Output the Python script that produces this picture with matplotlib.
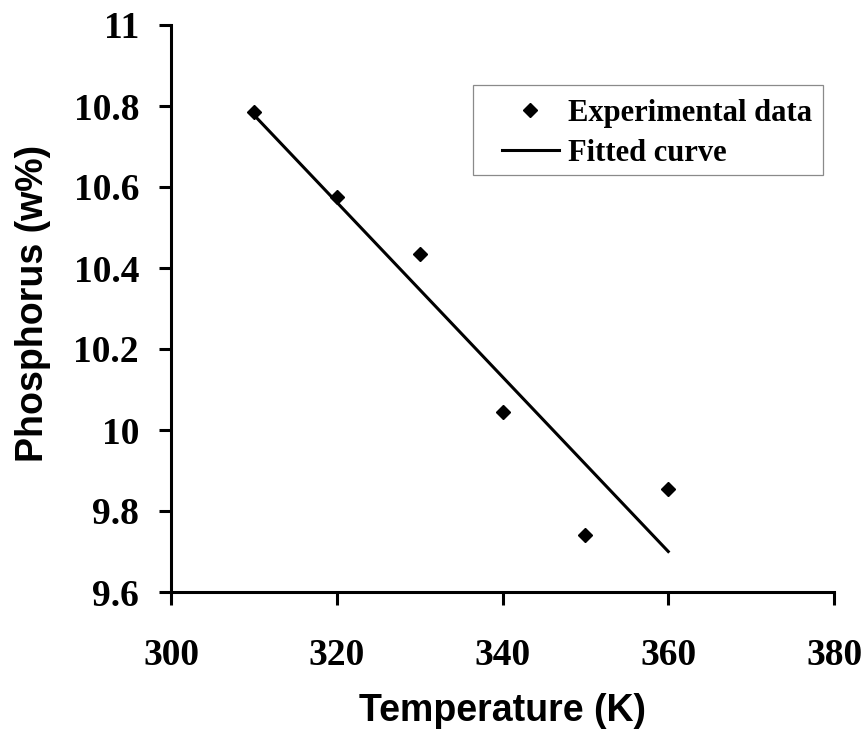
import matplotlib
matplotlib.use("Agg")
import matplotlib.pyplot as plt
from matplotlib.patches import Rectangle

# Phosphorus content vs. temperature
temperature = [310, 320, 330, 340, 350, 360]
phosphorus = [10.785, 10.575, 10.435, 10.045, 9.74, 9.855]

# Linear fit end points
fit_temperature = [310, 360]
fit_phosphorus = [10.778, 9.700]

x_ticks = [300, 320, 340, 360, 380]
y_ticks = [9.6, 9.8, 10.0, 10.2, 10.4, 10.6, 10.8, 11.0]
y_tick_labels = ["9.6", "9.8", "10", "10.2", "10.4", "10.6", "10.8", "11"]

W, H = 867, 740
fig = plt.figure(figsize=(W / 100, H / 100), dpi=100)
ax = fig.add_axes([171 / W, 1 - 592 / H, (834 - 171) / W, (592 - 25) / H])

serif = "Liberation Serif"
sans = "Liberation Sans"

ax.plot(temperature, phosphorus, linestyle="none", marker="D", markersize=7,
        color="black", label="Experimental data", zorder=3)
ax.plot(fit_temperature, fit_phosphorus, color="black", linewidth=2.2,
        label="Fitted curve", zorder=2)

ax.set_xlim(300, 380)
ax.set_ylim(9.6, 11.0)
ax.set_xticks(x_ticks)
ax.set_xticklabels([str(t) for t in x_ticks])
ax.set_yticks(y_ticks)
ax.set_yticklabels(y_tick_labels)

for side in ("top", "right"):
    ax.spines[side].set_visible(False)
for side in ("left", "bottom"):
    ax.spines[side].set_linewidth(2.2)

ax.tick_params(axis="both", direction="out", length=9, width=2.2)
ax.tick_params(axis="x", pad=24)
ax.tick_params(axis="y", pad=14)
for lab in ax.get_xticklabels() + ax.get_yticklabels():
    lab.set_fontfamily(serif)
    lab.set_fontweight("bold")
    lab.set_fontsize(27)

ax.set_xlabel("Temperature (K)", fontfamily=sans, fontweight="bold", fontsize=27)
ax.set_ylabel("Phosphorus (w%)", fontfamily=sans, fontweight="bold", fontsize=27)
ax.xaxis.set_label_coords(0.5, -(711 - 592) / 567)
ax.xaxis.label.set_va("center")
ax.yaxis.set_label_coords(-(171 - 33) / 663, (592 - 303) / 567)
ax.yaxis.label.set_va("center")

# Legend entries without their own frame; a thin grey box is drawn around them
leg = ax.legend(loc="upper left", bbox_to_anchor=(502 / W, 1 - 99 / H),
                bbox_transform=fig.transFigure, borderaxespad=0, borderpad=0,
                prop={"family": serif, "weight": "bold", "size": 22},
                handlelength=1.85, handletextpad=0.3, labelspacing=0.36,
                frameon=False)
fig.patches.append(Rectangle((473 / W, 1 - 175 / H), 350 / W, 90 / H,
                             transform=fig.transFigure, fill=False,
                             edgecolor="#8a8a8a", linewidth=0.9))

fig.savefig("out.png", dpi=100)
